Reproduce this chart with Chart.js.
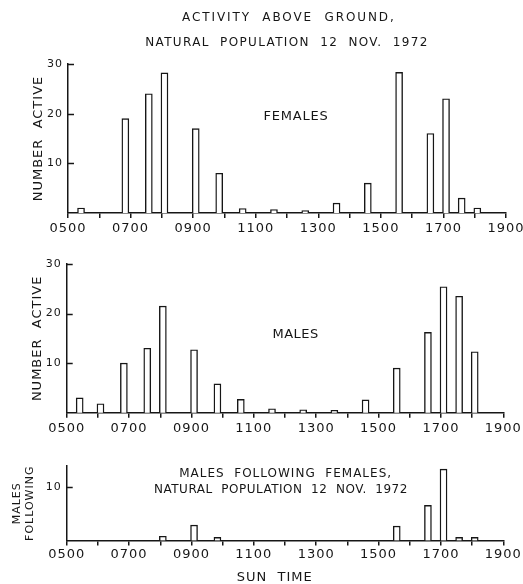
<!DOCTYPE html>
<html>
<head>
<meta charset="utf-8">
<script src="https://cdn.jsdelivr.net/npm/chart.js@4.4.1/dist/chart.umd.min.js"></script>
<style>
  html, body { margin: 0; padding: 0; background: #fff; }
  #wrap { position: relative; width: 523px; height: 584px; }
  canvas { position: absolute; left: 0; }
</style>
</head>
<body>
<div id="wrap">
  <canvas id="cFemales" width="523" height="240" style="top:0px"></canvas>
  <canvas id="cMales" width="523" height="200" style="top:240px"></canvas>
  <canvas id="cFollow" width="523" height="144" style="top:440px"></canvas>
</div>
<script>
// sun time of each sample (bar centre)
const sampleTimes = ['0525', '0605', '0650', '0735', '0805', '0905', '0950', '1035', '1135',
  '1235', '1335', '1435', '1535', '1635', '1705', '1735', '1805'];
// counts per sample, null = no bar drawn
const females = [1, null, 19, 24, 28.2, 17, 8, 0.9, 0.7, 0.5, 2, 6, 28.3, 16, 23, 3, 1];
const males = [3, 1.8, 10, 13, 21.5, 12.7, 5.8, 2.7, 0.8, 0.6, 0.5, 2.6, 9, 16.2, 25.4, 23.5, 12.3];
const malesFollowing = [null, null, null, null, 0.8, 2.9, 0.6, null, null, null, null, null, 2.7, 6.6, 13.4, 0.6, 0.6];

const xTickLabels = ['0500', '0700', '0900', '1100', '1300', '1500', '1700', '1900'];
const yTicksActive = [10, 20, 30];
const yTicksFollow = [10];

const INK = '#161616';
const FONT = '"DejaVu Sans", sans-serif';
Chart.defaults.font.family = FONT;
Chart.defaults.color = INK;

const toHours = s => Number(s.slice(0, 2)) + Number(s.slice(2)) / 60;
const hourLabel = v => String(v).padStart(2, '0') + '00';

// wide lettering like the stencil text of the original
const spacing = {
  id: 'spacing',
  beforeDraw(chart) { chart.ctx.letterSpacing = '1px'; }
};

// y ticks point into the plot, as drawn in the figure
const inwardTicks = {
  id: 'inwardTicks',
  afterDraw(chart) {
    const { ctx, chartArea, scales: { y } } = chart;
    ctx.save();
    ctx.strokeStyle = INK;
    ctx.lineWidth = 1.5;
    y.ticks.forEach(t => {
      const py = Math.round(y.getPixelForValue(t.value)) + 0.5;
      ctx.beginPath();
      ctx.moveTo(chartArea.left, py);
      ctx.lineTo(chartArea.left + 6, py);
      ctx.stroke();
    });
    ctx.restore();
  }
};

// free text placed in data units (x = hour, y = count)
function textPlugin(items) {
  return {
    id: 'panelText',
    afterDraw(chart) {
      const { ctx, scales: { x, y } } = chart;
      items.forEach(it => {
        ctx.save();
        ctx.font = it.size + 'px ' + FONT;
        ctx.letterSpacing = it.spacing + 'px';
        ctx.fillStyle = INK;
        ctx.textAlign = 'center';
        ctx.textBaseline = 'middle';
        ctx.fillText(it.text, x.getPixelForValue(it.x), y.getPixelForValue(it.y));
        ctx.restore();
      });
    }
  };
}

function makePanel(id, values, cfg) {
  const points = sampleTimes
    .map((t, i) => ({ x: toHours(t), y: values[i] }))
    .filter(p => p.y !== null);

  return new Chart(document.getElementById(id), {
    type: 'bar',
    data: {
      datasets: [{
        data: points,
        barThickness: 7,
        borderWidth: 1.4,
        borderColor: INK,
        backgroundColor: '#fff',
        clip: false
      }]
    },
    options: {
      responsive: false,
      animation: false,
      layout: { padding: cfg.padding },
      plugins: { legend: { display: false }, tooltip: { enabled: false } },
      scales: {
        x: {
          type: 'linear',
          min: 5,
          max: 19,
          offset: false,
          afterFit: s => { s.height = cfg.xHeight; s.paddingLeft = 0; s.paddingRight = 0; },
          grid: { offset: false, drawOnChartArea: false, drawTicks: true, tickLength: 5, color: INK, lineWidth: 1.5 },
          border: { display: true, color: INK, width: 1.5 },
          ticks: {
            stepSize: 1,
            autoSkip: false,
            maxRotation: 0,
            padding: cfg.xPad,
            color: INK,
            font: { size: 13 },
            callback: v => xTickLabels.includes(hourLabel(v)) ? hourLabel(v) : ''
          },
          title: cfg.xTitle || { display: false }
        },
        y: {
          min: 0,
          max: cfg.yMax,
          afterBuildTicks: s => { s.ticks = cfg.yTicks.map(v => ({ value: v })); },
          afterFit: s => { s.width = cfg.yWidth; s.paddingTop = 0; s.paddingBottom = 0; },
          grid: { drawOnChartArea: false, drawTicks: false, color: INK, lineWidth: 1.5 },
          border: { display: true, color: INK, width: 1.5 },
          ticks: { padding: 5, color: INK, font: { size: 11 } },
          title: {
            display: true,
            text: cfg.yTitle,
            color: INK,
            font: { size: cfg.yTitleSize },
            padding: { top: cfg.yTitlePad, bottom: 0 }
          }
        }
      }
    },
    plugins: [spacing, inwardTicks, textPlugin(cfg.texts)]
  });
}

makePanel('cFemales', females, {
  padding: { top: 64, right: 17, bottom: 0, left: 0 },
  xHeight: 27, xPad: 3, yWidth: 68, yMax: 30, yTicks: yTicksActive,
  yTitle: 'NUMBER  ACTIVE', yTitleSize: 13, yTitlePad: 31,
  texts: [
    { text: 'ACTIVITY  ABOVE  GROUND,', x: 12.06, y: 39.3, size: 12, spacing: 1.9 },
    { text: 'NATURAL  POPULATION  12  NOV.  1972', x: 12.0, y: 34.3, size: 12, spacing: 1.35 },
    { text: 'FEMALES', x: 12.29, y: 19.5, size: 13, spacing: 0.8 }
  ]
});

makePanel('cMales', males, {
  padding: { top: 24, right: 19.7, bottom: 0, left: 0 },
  xHeight: 27.3, xPad: 3, yWidth: 66.7, yMax: 30, yTicks: yTicksActive,
  yTitle: 'NUMBER  ACTIVE', yTitleSize: 13, yTitlePad: 29.5,
  texts: [
    { text: 'MALES', x: 12.34, y: 15.7, size: 13, spacing: 0.5 }
  ]
});

makePanel('cFollow', malesFollowing, {
  padding: { top: 26, right: 19.7, bottom: 0, left: 0 },
  xHeight: 43.5, xPad: 1, yWidth: 66.7, yMax: 14, yTicks: yTicksFollow,
  yTitle: ['MALES', 'FOLLOWING'], yTitleSize: 11, yTitlePad: 10.5,
  xTitle: { display: true, text: 'SUN  TIME    ', color: INK, font: { size: 13, lineHeight: 1 }, padding: 0 },
  texts: [
    { text: 'MALES  FOLLOWING  FEMALES,', x: 12.02, y: 12.5, size: 12, spacing: 1.0 },
    { text: 'NATURAL  POPULATION  12  NOV.  1972', x: 11.87, y: 9.5, size: 12, spacing: 0.5 }
  ]
});
</script>
</body>
</html>
